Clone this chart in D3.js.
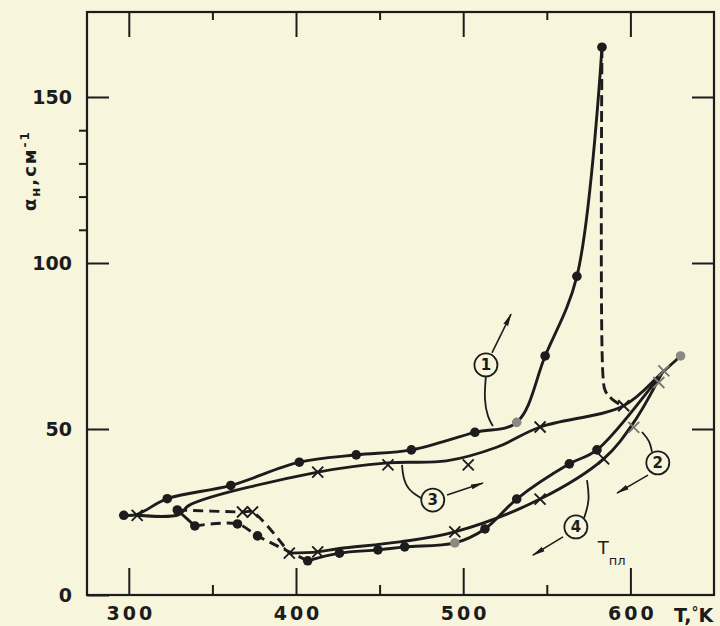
<!DOCTYPE html>
<html>
<head>
<meta charset="utf-8">
<script src="https://cdn.jsdelivr.net/npm/d3@7/dist/d3.min.js"></script>
<style>
html,body{margin:0;padding:0;background:#f7f5dc;}
svg{display:block;}
</style>
</head>
<body>
<svg id="chart" width="720" height="626"></svg>
<script>
// ---------- DATA (T in K, alpha in cm^-1) ----------
const xMajorTicks = [300, 400, 500, 600];
const xMinorTicks = [350, 450, 550];
const yMajorTicks = [0, 50, 100, 150];
const yMinorTicks = [110, 120, 130, 140];

// curve 1 (dots, heating)
const curve1Line = [[297,24],[305,24.3],[323,29],[361,33],[402,40],[436,42.2],[469,43.7],[507,49],[532,52],[549,72],[568,96],[583,165]];
const curve1Dashed = [[583,165],[583.6,66],[585,61.5],[589,59],[595,57]];
const curve1Dots = [[297,24],[323,29],[361,33],[402,40],[436,42.2],[469,43.7],[507,49],[549,72],[568,96],[583,165]];

// curve 3 (crosses, cooling)
const curve3Line = [[305,24],[330,24.2],[336,27],[413,37],[455,39.8],[490,40.4],[520,44.5],[546,50.6],[596,57],[619,67],[630,72]];
const curve3Crosses = [[305,24],[413,37],[455,39.2],[503,39.2],[546,50.6],[596,57]];

// curve 2 (dots)
const curve2SolidA = [[329,25.6],[339.5,20.8]];
const curve2Dashed = [[339.5,20.8],[365,21.4],[377,17.8],[407,10.3]];
const curve2SolidB = [[407,10.3],[426,12.6],[449,13.6],[465,14.5],[495,15.7],[513,19.9],[532,28.9],[563.5,39.5],[580,43.7],[619,67]];
const curve2Dots = [[329,25.6],[339.5,20.8],[365,21.4],[377,17.8],[407,10.3],[426,12.6],[449,13.6],[465,14.5],[513,19.9],[532,28.9],[563.5,39.5],[580,43.7]];

// curve 4 (crosses)
const curve4Dashed = [[329,25.6],[368,25],[374,25],[396,12.6]];
const curve4Solid = [[396,12.6],[413,13],[426,14],[462,16],[495,19],[546,28.9],[584,41],[602,52],[619,67]];
const curve4Crosses = [[368,25],[374,25],[396,12.6],[413,13],[495,19],[546,28.9],[584,41]];

// faint (grey) points
const greyDots = [[532,52],[495,15.7],[630,72]];
const greyCrosses = [[602,50.5],[617,64],[620,67.5]];

// annotations: circled numbers, leaders, arrows
const labelCircles = [
  {n:"1", t:513.6, v:69.3},
  {n:"2", t:616.4, v:39.8},
  {n:"3", t:481.8, v:28.6},
  {n:"4", t:567.4, v:20.5}
];
const leaders = [
  [[513.6,66.0],[512.4,58.7],[514.8,53.3],[517.8,50.9]],
  [[612.9,43.1],[611.7,46.4],[606.9,49.1]],
  [[474.8,29.2],[467.0,31.6],[464.0,35.5],[463.4,39.2]],
  [[572.3,23.2],[575.8,28.6],[574.0,34.6]]
];
const arrows = [
  [[517.2,72.9],[528.6,84.6]],
  [[610.5,36.1],[592.0,30.7]],
  [[490.3,30.1],[511.8,33.7]],
  [[559.7,17.5],[541.7,12.0]]
];

// ---------- DRAW ----------
const svg = d3.select("#chart");
const ink = "#1c1c1c";
const x = d3.scaleLinear().domain([275, 650]).range([87, 714]);
const y = d3.scaleLinear().domain([0, 175.6]).range([595, 12]);

svg.append("rect").attr("width",720).attr("height",626).attr("fill","#f7f5dc");

svg.append("defs").append("marker")
  .attr("id","ah").attr("viewBox","0 0 13 6").attr("refX",12).attr("refY",3)
  .attr("markerWidth",13).attr("markerHeight",6).attr("markerUnits","userSpaceOnUse")
  .attr("orient","auto")
  .append("path").attr("d","M0,0.4 L13,3 L0,5.6 Z").attr("fill",ink);

const fontTick = "'DejaVu Sans', sans-serif";

function styleAxis(g, labels, ls){
  g.select(".domain").remove();
  g.selectAll(".tick line").attr("stroke", ink).attr("stroke-width", 2);
  g.selectAll(".tick text").attr("fill", ink).attr("font-family", fontTick)
    .attr("font-size", 19).attr("font-weight", "bold").attr("letter-spacing", ls || 0);
  if(!labels) g.selectAll(".tick text").remove();
}

// bottom
svg.append("g").attr("transform","translate(0,595)")
  .call(d3.axisBottom(x).tickValues(xMajorTicks).tickSize(-27).tickPadding(12).tickFormat(d3.format("d")))
  .call(g => styleAxis(g, true, 3))
  .call(g => g.selectAll(".tick text").attr("dx", 1.5));
svg.append("g").attr("transform","translate(0,595)")
  .call(d3.axisBottom(x).tickValues(xMinorTicks).tickSize(-10).tickFormat(""))
  .call(g => styleAxis(g, false));
// top
svg.append("g").attr("transform","translate(0,12)")
  .call(d3.axisTop(x).tickValues(xMajorTicks).tickSize(-25).tickFormat(""))
  .call(g => styleAxis(g, false));
svg.append("g").attr("transform","translate(0,12)")
  .call(d3.axisTop(x).tickValues(xMinorTicks).tickSize(-8).tickFormat(""))
  .call(g => styleAxis(g, false));
// left
svg.append("g").attr("transform","translate(87,0)")
  .call(d3.axisLeft(y).tickValues(yMajorTicks).tickSize(-22).tickPadding(15).tickFormat(d3.format("d")))
  .call(g => styleAxis(g, true, 0));
svg.append("g").attr("transform","translate(87,0)")
  .call(d3.axisLeft(y).tickValues(yMinorTicks).tickSize(8).tickFormat(""))
  .call(g => styleAxis(g, false));
// right
svg.append("g").attr("transform","translate(714,0)")
  .call(d3.axisRight(y).tickValues(yMajorTicks.filter(d=>d>0)).tickSize(-22).tickFormat(""))
  .call(g => styleAxis(g, false));

// frame
svg.append("rect").attr("x",x(275)).attr("y",y(175.6))
  .attr("width",x(650)-x(275)).attr("height",y(0)-y(175.6))
  .attr("fill","none").attr("stroke",ink).attr("stroke-width",2.2);

// curves
const line = d3.line().x(d=>x(d[0])).y(d=>y(d[1])).curve(d3.curveCatmullRom.alpha(0.5));
function drawLine(data, dash, w){
  svg.append("path").attr("d", line(data)).attr("fill","none")
    .attr("stroke", ink).attr("stroke-width", w || 2.9)
    .attr("stroke-linecap","butt").attr("stroke-linejoin","round")
    .attr("stroke-dasharray", dash || null);
}
drawLine(curve1Line);
drawLine(curve1Dashed, "11,5");
drawLine(curve3Line);
drawLine(curve2SolidA);
drawLine(curve2Dashed, "10,6");
drawLine(curve2SolidB);
drawLine(curve4Dashed, "10,6");
drawLine(curve4Solid);

// markers
function dots(data, color, r){
  svg.append("g").selectAll("circle").data(data).join("circle")
    .attr("cx", d=>x(d[0])).attr("cy", d=>y(d[1])).attr("r", r || 4.8).attr("fill", color);
}
function crosses(data, color){
  const s = 5.5;
  svg.append("g").selectAll("path").data(data).join("path")
    .attr("d", d=>{const cx=x(d[0]), cy=y(d[1]);
      return `M${cx-s},${cy-s}L${cx+s},${cy+s}M${cx-s},${cy+s}L${cx+s},${cy-s}`;})
    .attr("stroke", color).attr("stroke-width", 1.9).attr("fill","none");
}
dots(curve1Dots, ink);
dots(curve2Dots, ink);
crosses(curve3Crosses, ink);
crosses(curve4Crosses, ink);
dots(greyDots, "#8a8a80", 4.8);
crosses(greyCrosses, "#7a7a72");

// annotations
const smooth = d3.line().x(d=>x(d[0])).y(d=>y(d[1])).curve(d3.curveBasis);
leaders.forEach(l => svg.append("path").attr("d", smooth(l)).attr("fill","none")
  .attr("stroke", ink).attr("stroke-width", 1.8));
arrows.forEach(a => svg.append("line")
  .attr("x1", x(a[0][0])).attr("y1", y(a[0][1]))
  .attr("x2", x(a[1][0])).attr("y2", y(a[1][1]))
  .attr("stroke", ink).attr("stroke-width", 1.6).attr("marker-end","url(#ah)"));
const lc = svg.append("g").selectAll("g").data(labelCircles).join("g")
  .attr("transform", d=>`translate(${x(d.t)},${y(d.v)})`);
lc.append("circle").attr("r", 11.5).attr("fill","#f7f5dc").attr("stroke", ink).attr("stroke-width", 1.8);
lc.append("text").text(d=>d.n).attr("text-anchor","middle").attr("dy","0.36em")
  .attr("font-family", fontTick).attr("font-size", 15).attr("font-weight","bold").attr("fill", ink);

// T melting label
const tl = svg.append("text").attr("x", x(580.5)).attr("y", y(12.3))
  .attr("font-family", fontTick).attr("font-size", 18).attr("fill", ink);
tl.append("tspan").text("T");
tl.append("tspan").text("пл").attr("font-size", 13).attr("dy", 11);

// x-axis title
const xt = svg.append("text").attr("x", 674).attr("y", 622)
  .attr("font-family", fontTick).attr("font-size", 19).attr("font-weight","bold").attr("fill", ink);
xt.append("tspan").text("T,");
xt.append("tspan").text("°").attr("font-size", 14).attr("dy", -5);
xt.append("tspan").text("K").attr("dy", 5);

// y-axis title
const yt = svg.append("text").attr("transform","translate(36,211) rotate(-90)")
  .attr("font-family", fontTick).attr("font-size", 18).attr("font-weight","bold")
  .attr("letter-spacing", 2).attr("fill", ink);
yt.append("tspan").text("α");
yt.append("tspan").text("н").attr("font-size", 13).attr("dy", 4);
yt.append("tspan").text(",см").attr("dy", -4);
yt.append("tspan").text("-1").attr("font-size", 12).attr("dy", -7);
</script>
</body>
</html>
